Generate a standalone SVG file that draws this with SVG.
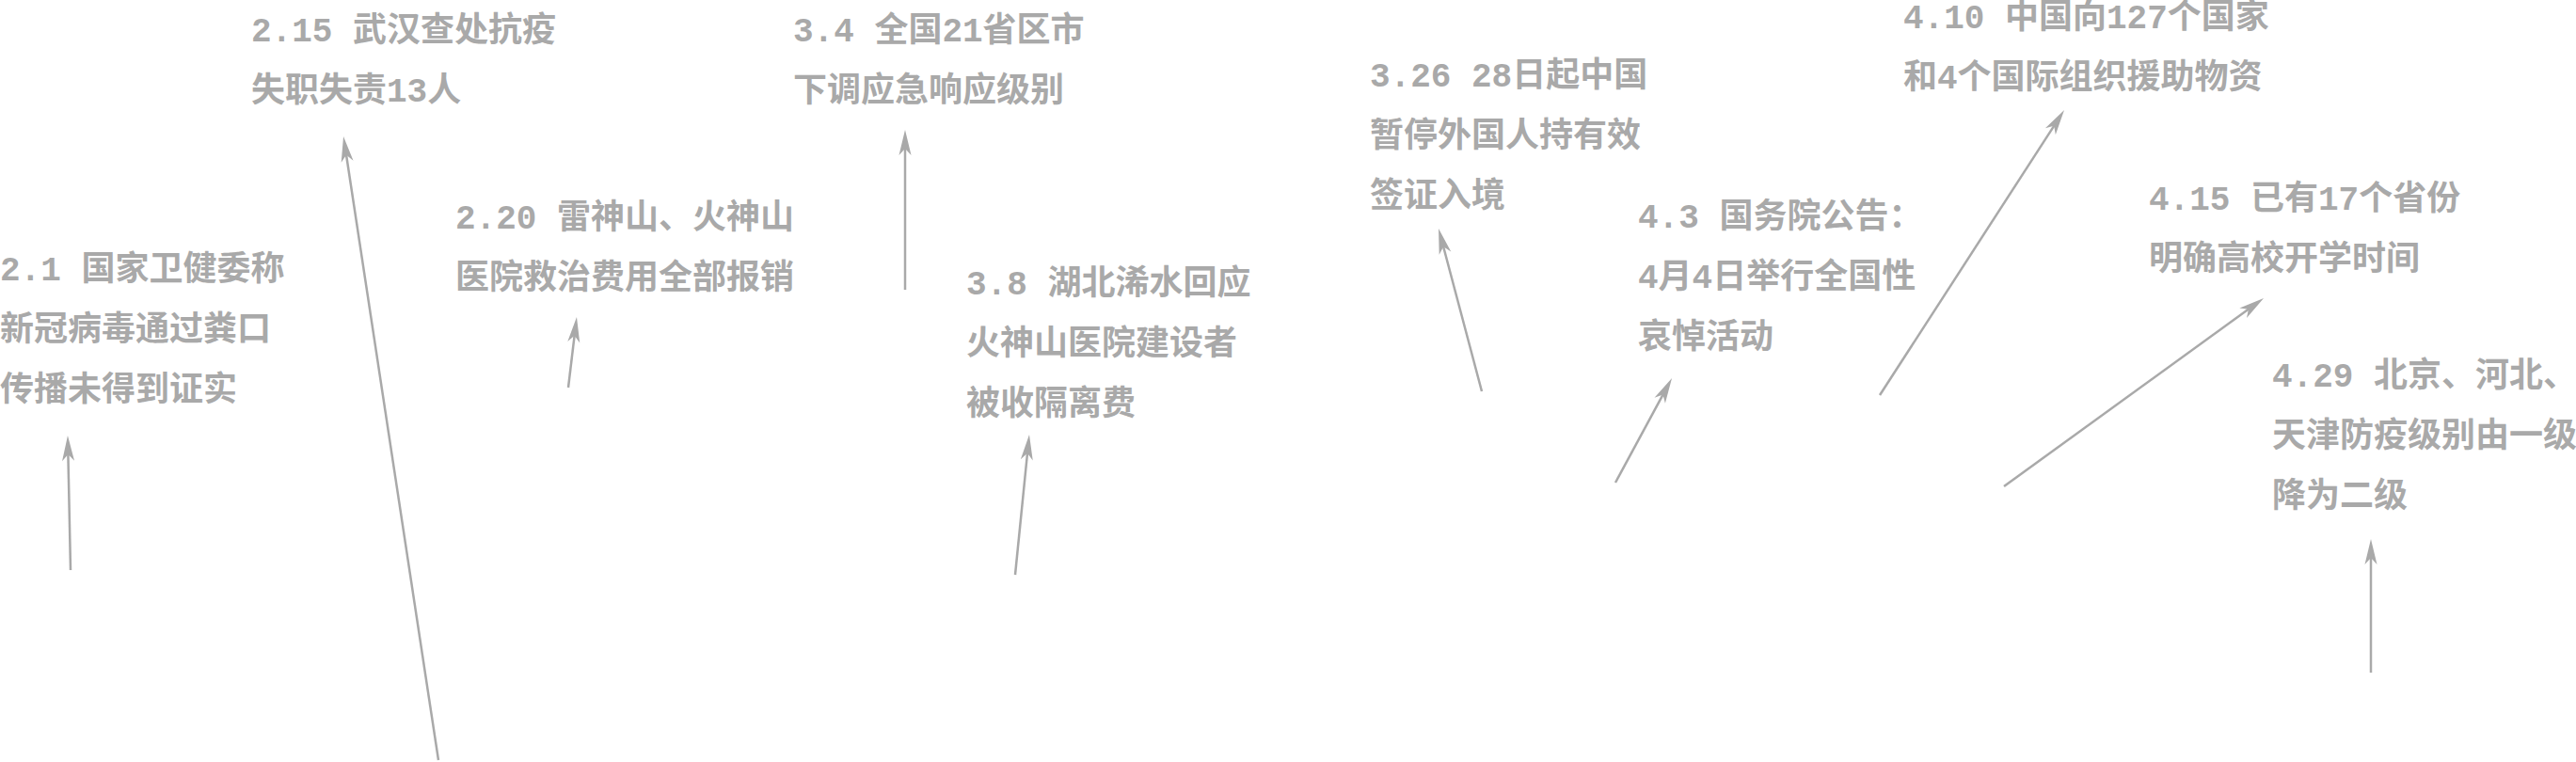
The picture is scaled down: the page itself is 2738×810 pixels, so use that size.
<svg xmlns="http://www.w3.org/2000/svg" width="2738" height="810" viewBox="0 0 2738 810">
<style>
.t{font-family:"Liberation Mono","Noto Sans CJK SC",sans-serif;font-size:36px;font-weight:bold;fill:#a9a9a9}
.c{stroke:#a9a9a9;stroke-width:2.5;fill:none;marker-end:url(#ah)}
</style>
<defs>
<marker id="ah" markerUnits="userSpaceOnUse" orient="auto" refX="0" refY="0" markerWidth="40" markerHeight="20" overflow="visible">
<path d="M15,0 L-12,-6.5 L-5,0 L-12,6.5 Z" fill="#a9a9a9"/>
</marker>
</defs>
<rect width="2738" height="810" fill="#ffffff"/>
<g id="connectors">
<line class="c" x1="75" y1="606" x2="72.3" y2="478"/>
<line class="c" x1="466" y1="808" x2="367.3" y2="159.8"/>
<line class="c" x1="604" y1="412" x2="611.2" y2="351.9"/>
<line class="c" x1="962" y1="308" x2="962" y2="153"/>
<line class="c" x1="1079" y1="611" x2="1092.5" y2="476.9"/>
<line class="c" x1="1575" y1="416" x2="1532.9" y2="257.5"/>
<line class="c" x1="1717" y1="513" x2="1769.9" y2="415.2"/>
<line class="c" x1="1998" y1="420" x2="2185.9" y2="129.6"/>
<line class="c" x1="2130" y1="517" x2="2393.9" y2="325.8"/>
<line class="c" x1="2520" y1="715" x2="2520" y2="588"/>
</g>
<g id="n-0201"><text class="t" x="0" y="298">2.1 国家卫健委称</text><text class="t" x="0" y="362">新冠病毒通过粪口</text><text class="t" x="0" y="426">传播未得到证实</text></g>
<g id="n-0215"><text class="t" x="267" y="44">2.15 武汉查处抗疫</text><text class="t" x="267" y="108">失职失责13人</text></g>
<g id="n-0220"><text class="t" x="484" y="243">2.20 雷神山、火神山</text><text class="t" x="484" y="307">医院救治费用全部报销</text></g>
<g id="n-0304"><text class="t" x="843" y="44">3.4 全国21省区市</text><text class="t" x="843" y="108">下调应急响应级别</text></g>
<g id="n-0308"><text class="t" x="1027" y="313">3.8 湖北浠水回应</text><text class="t" x="1027" y="377">火神山医院建设者</text><text class="t" x="1027" y="441">被收隔离费</text></g>
<g id="n-0326"><text class="t" x="1456" y="92">3.26 28日起中国</text><text class="t" x="1456" y="156">暂停外国人持有效</text><text class="t" x="1456" y="220">签证入境</text></g>
<g id="n-0403"><text class="t" x="1741" y="242">4.3 国务院公告：</text><text class="t" x="1741" y="306">4月4日举行全国性</text><text class="t" x="1741" y="370">哀悼活动</text></g>
<g id="n-0410"><text class="t" x="2023" y="30">4.10 中国向127个国家</text><text class="t" x="2023" y="94">和4个国际组织援助物资</text></g>
<g id="n-0415"><text class="t" x="2284" y="223">4.15 已有17个省份</text><text class="t" x="2284" y="287">明确高校开学时间</text></g>
<g id="n-0429"><text class="t" x="2415" y="411">4.29 北京、河北、</text><text class="t" x="2415" y="475">天津防疫级别由一级</text><text class="t" x="2415" y="539">降为二级</text></g>
</svg>
